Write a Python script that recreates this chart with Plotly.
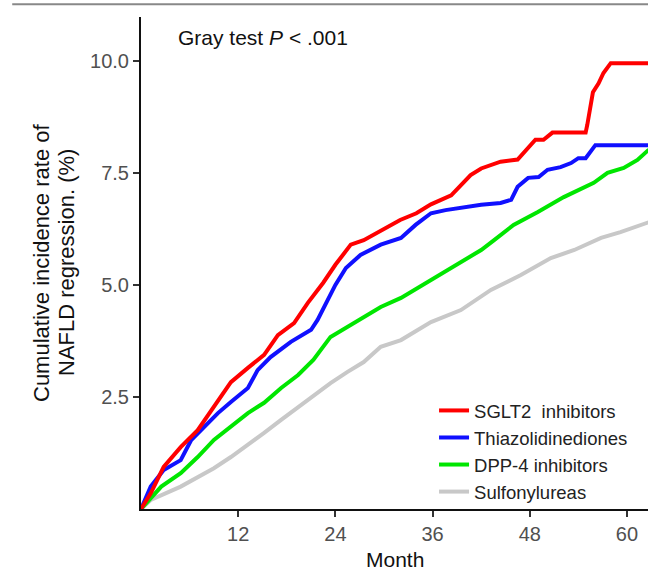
import plotly.graph_objects as go

# ---- data ----
sglt2_m = [0, 1.2, 2.8, 4.9, 7.0, 9.0, 11.1, 13.2, 15.2, 16.9, 18.9, 20.6, 22.5, 24.0, 25.9, 27.5, 29.6, 32.0, 34.0, 35.8, 38.3, 40.7, 42.0, 44.4, 46.5, 47.3, 48.7, 49.7, 50.8, 54.9, 55.1, 55.8, 56.5, 57.1, 58.0, 62.7]
sglt2_v = [0, 0.35, 0.94, 1.38, 1.76, 2.28, 2.83, 3.15, 3.44, 3.88, 4.15, 4.6, 5.05, 5.45, 5.9, 6.0, 6.2, 6.45, 6.6, 6.8, 7.0, 7.45, 7.6, 7.75, 7.8, 7.95, 8.24, 8.24, 8.4, 8.4, 8.57, 9.3, 9.5, 9.73, 9.95, 9.95]

tzd_m = [0, 1.2, 2.8, 4.9, 6.2, 7.8, 9.5, 11.1, 13.2, 14.4, 16.0, 18.5, 21.0, 21.8, 23.1, 24.0, 25.3, 27.1, 29.6, 32.1, 33.9, 35.8, 37.6, 40.0, 42.0, 44.4, 45.7, 46.5, 47.8, 49.1, 50.2, 51.8, 53.1, 54.0, 54.9, 56.1, 62.7]
tzd_v = [0, 0.5, 0.87, 1.09, 1.54, 1.83, 2.14, 2.39, 2.7, 3.1, 3.39, 3.73, 4.0, 4.22, 4.67, 5.0, 5.38, 5.67, 5.9, 6.05, 6.34, 6.6, 6.67, 6.74, 6.79, 6.83, 6.9, 7.19, 7.39, 7.41, 7.57, 7.63, 7.72, 7.83, 7.83, 8.12, 8.12]

dpp4_m = [0, 2.5, 4.9, 7.0, 9.0, 11.1, 13.2, 15.2, 17.3, 19.4, 21.3, 23.4, 25.5, 27.5, 29.6, 32.1, 35.8, 38.3, 42.0, 43.6, 46.0, 49.0, 52.2, 55.9, 57.6, 59.6, 61.3, 62.7]
dpp4_v = [0, 0.5, 0.8, 1.16, 1.54, 1.83, 2.14, 2.37, 2.7, 2.99, 3.33, 3.84, 4.06, 4.29, 4.51, 4.71, 5.11, 5.38, 5.78, 6.0, 6.34, 6.63, 6.96, 7.28, 7.5, 7.61, 7.79, 8.02]

su_m = [0, 1.2, 4.9, 7.0, 9.0, 11.1, 13.2, 15.2, 17.3, 19.4, 21.3, 23.4, 25.5, 27.5, 29.6, 32.1, 35.8, 39.5, 43.2, 46.9, 50.6, 53.5, 56.8, 59.2, 62.7]
su_v = [0, 0.2, 0.5, 0.71, 0.91, 1.16, 1.43, 1.7, 1.99, 2.28, 2.54, 2.81, 3.06, 3.28, 3.62, 3.77, 4.17, 4.44, 4.89, 5.22, 5.6, 5.78, 6.05, 6.18, 6.4]

names = ["SGLT2  inhibitors", "Thiazolidinediones", "DPP-4 inhibitors", "Sulfonylureas"]
colors = ["#ff0000", "#1010ff", "#00e600", "#c8c8c8"]
x_ticks = [12, 24, 36, 48, 60]
y_ticks = [2.5, 5.0, 7.5, 10.0]
y_tick_text = ["2.5", "5.0", "7.5", "10.0"]

series = [(sglt2_m, sglt2_v), (tzd_m, tzd_v), (dpp4_m, dpp4_v), (su_m, su_v)]

fig = go.Figure()
# draw gray first so the colored lines sit on top, but keep legend order
order = [3, 2, 1, 0]
for i in order:
    mx, vy = series[i]
    fig.add_trace(go.Scatter(
        x=mx, y=vy, mode="lines", name=names[i],
        line=dict(color=colors[i], width=4, shape="linear"),
        legendrank=i + 1,
    ))

font = "Arial, Liberation Sans, sans-serif"
fig.update_layout(
    width=648, height=573,
    margin=dict(l=141, r=0, t=17, b=64),
    paper_bgcolor="white", plot_bgcolor="white",
    font=dict(family=font, size=16, color="#222222"),
    showlegend=True,
    legend=dict(
        x=0.578, y=0.238, xanchor="left", yanchor="top",
        bgcolor="rgba(0,0,0,0)", font=dict(size=18.5, color="#222222"),
        traceorder="normal", itemwidth=30, tracegroupgap=0,
    ),
    xaxis=dict(
        range=[0, 62.6], tickvals=x_ticks, ticktext=[str(t) for t in x_ticks],
        showgrid=False, zeroline=False, showline=True, linecolor="#111111", linewidth=2,
        ticks="outside", ticklen=6, tickwidth=2, tickcolor="#333333",
        tickfont=dict(size=20, color="#505050"),
    ),
    yaxis=dict(
        range=[0, 10.98], tickvals=y_ticks, ticktext=y_tick_text,
        showgrid=False, zeroline=False, showline=True, linecolor="#111111", linewidth=2,
        ticks="outside", ticklen=6, tickwidth=2, tickcolor="#333333",
        tickfont=dict(size=20, color="#505050"),
    ),
)

# y-axis title (two lines placed separately)
fig.add_annotation(
    x=(41 - 141) / 507, y=0.5, xref="paper", yref="paper", xanchor="center", yanchor="middle",
    text="Cumulative incidence rate of", textangle=-90,
    showarrow=False, font=dict(size=22, color="#111111"),
)
fig.add_annotation(
    x=(66 - 141) / 507, y=0.5, xref="paper", yref="paper", xanchor="center", yanchor="middle",
    text="NAFLD regression. (%)", textangle=-90,
    showarrow=False, font=dict(size=22, color="#111111"),
)
# x-axis title
fig.add_annotation(
    x=0.5, y=(509 - 559) / 492, xref="paper", yref="paper", xanchor="center", yanchor="middle",
    text="Month", showarrow=False, font=dict(size=21, color="#111111"),
)
fig.add_annotation(
    x=(176 - 141) / 507, y=(509 - 37) / 492, xref="paper", yref="paper", xanchor="left", yanchor="middle",
    text="Gray test <i>P</i> < .001", showarrow=False,
    font=dict(size=21, color="#111111"),
)
fig.add_shape(
    type="line", xref="paper", yref="paper",
    x0=-0.254, x1=1.0, y0=1.026, y1=1.026,
    line=dict(color="#888888", width=2),
)

fig.write_html("out.html")
